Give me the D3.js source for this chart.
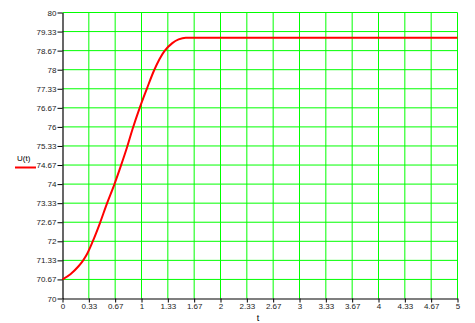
<!DOCTYPE html>
<html><head><meta charset="utf-8">
<script src="https://cdn.jsdelivr.net/npm/d3@7"></script>
<style>html,body{margin:0;padding:0;background:#fff;}svg{display:block;}</style>
</head><body>
<svg id="c" width="475" height="323"></svg>
<script>
// Data
const tValues = [0, 0.1, 0.2, 0.253, 0.3, 0.38, 0.473, 0.56, 0.658, 0.743, 0.815, 0.886, 0.975, 1.07, 1.16, 1.29, 1.39, 1.47, 1.56, 2, 3, 4, 5];
const uValues = [70.67, 70.85, 71.12, 71.30, 71.50, 71.98, 72.63, 73.30, 74.0, 74.67, 75.27, 75.92, 76.65, 77.35, 77.98, 78.65, 78.93, 79.06, 79.12, 79.12, 79.12, 79.12, 79.12];
const xTickValues = [0, 1/3, 2/3, 1, 4/3, 5/3, 2, 7/3, 8/3, 3, 10/3, 11/3, 4, 13/3, 14/3, 5];
const xTickLabels = ["0","0.33","0.67","1","1.33","1.67","2","2.33","2.67","3","3.33","3.67","4","4.33","4.67","5"];
const yTickValues = [70, 70+2/3, 70+4/3, 72, 72+2/3, 72+4/3, 74, 74+2/3, 74+4/3, 76, 76+2/3, 76+4/3, 78, 78+2/3, 78+4/3, 80];
const yTickLabels = ["70","70.67","71.33","72","72.67","73.33","74","74.67","75.33","76","76.67","77.33","78","78.67","79.33","80"];
const seriesName = "U(t)";
const xTitle = "t";

const svg = d3.select("#c");
const x = d3.scaleLinear().domain([0, 5]).range([62.5, 457.5]);
const y = d3.scaleLinear().domain([70, 80]).range([298.5, 12.5]);

// grid
const grid = svg.append("g").attr("stroke", "#00ff00").attr("stroke-width", 1);
xTickValues.forEach(v => {
  if (v === 0) return;
  grid.append("line").attr("x1", x(v)).attr("x2", x(v)).attr("y1", y(70)).attr("y2", y(80));
});
yTickValues.forEach(v => {
  if (v === 70) return;
  grid.append("line").attr("x1", x(0)).attr("x2", x(5)).attr("y1", y(v)).attr("y2", y(v));
});

// axes
const xAxis = d3.axisBottom(x).tickValues(xTickValues).tickFormat((d, i) => xTickLabels[i]).tickSize(4).tickSizeOuter(0);
const yAxis = d3.axisLeft(y).tickValues(yTickValues).tickFormat((d, i) => yTickLabels[i]).tickSize(5).tickSizeOuter(0);
const gx = svg.append("g").attr("transform", `translate(0,${y(70)})`).call(xAxis);
const gy = svg.append("g").attr("transform", `translate(${x(0)},0)`).call(yAxis);
[gx, gy].forEach(g => {
  g.select(".domain").attr("stroke", "#000").attr("stroke-width", 1.2);
  g.selectAll(".tick line").attr("stroke", "#000");
  g.selectAll("text").attr("fill", "#222").attr("font-family", "Liberation Sans, Arial, sans-serif").attr("font-size", 8);
});
gx.selectAll("text").attr("dy", "0.9em").attr("y", 3);
gy.selectAll("text").attr("x", -6);

// curve
const line = d3.line().x((d, i) => x(tValues[i])).y(d => y(d)).curve(d3.curveMonotoneX);
svg.append("path").datum(uValues).attr("d", line)
  .attr("fill", "none").attr("stroke", "#ff0000").attr("stroke-width", 2);

// axis title
svg.append("text").attr("x", 258).attr("y", 321).attr("text-anchor", "middle")
  .attr("font-family", "Liberation Sans, Arial, sans-serif").attr("font-size", 9).attr("fill", "#000").text(xTitle);

// legend
svg.append("text").attr("x", 17).attr("y", 161)
  .attr("font-family", "Liberation Sans, Arial, sans-serif").attr("font-size", 8).attr("fill", "#000").text(seriesName);
svg.append("line").attr("x1", 15).attr("x2", 36).attr("y1", 167.5).attr("y2", 167.5)
  .attr("stroke", "#ff0000").attr("stroke-width", 2);
</script>
</body></html>
